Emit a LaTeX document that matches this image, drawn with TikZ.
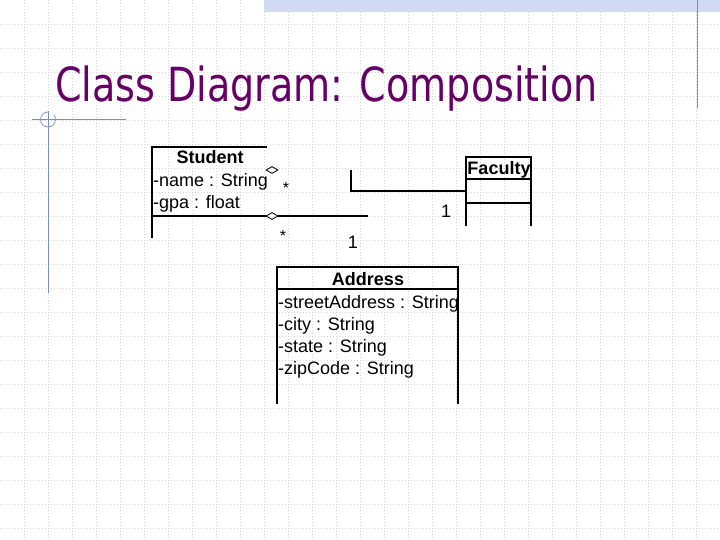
\documentclass[tikz,border=0pt]{standalone}
\usepackage{fontspec}
\usepackage{graphicx}
\setmainfont{Liberation Sans}
\newfontfamily\titlefont{DejaVu Sans}
\usetikzlibrary{shapes.geometric}
\definecolor{titlepurple}{RGB}{102,0,102}
\definecolor{tplblue}{RGB}{125,140,190}
\definecolor{bandblue}{RGB}{208,218,240}
\definecolor{gridgray}{RGB}{212,212,212}
\begin{document}
\begin{tikzpicture}[x=1pt,y=-1pt,
  gridline/.style={gridgray, line width=0.8pt, dash pattern=on 1.2pt off 1.8pt},
  tplline/.style={tplblue, line width=1pt},
  umlline/.style={black, line width=1.1pt},
  attr/.style={font=\fontsize{18}{22}\selectfont, inner sep=0pt, anchor=base west},
  clsname/.style={font=\bfseries\fontsize{18}{22}\selectfont, inner sep=0pt, anchor=base},
  mult/.style={font=\fontsize{18}{22}\selectfont, inner sep=0pt},
  starlbl/.style={font=\fontsize{16}{16}\selectfont, inner sep=0pt},
  aggr/.style={diamond, draw=black, line width=0.8pt, minimum width=12pt, minimum height=7pt, inner sep=0pt}]
\useasboundingbox (0,0) rectangle (720,540);
\fill[white] (0,0) rectangle (720,540);
% background grid
\foreach \k in {1,...,29} \draw[gridline] (24*\k,0) -- (24*\k,540);
\foreach \k in {1,...,22} \draw[gridline] (0,24*\k) -- (720,24*\k);
% template decorations
\fill[bandblue] (264,0) rectangle (720,12);
\draw[tplline] (697,0) -- (697,108);
\draw[tplline] (32,120) -- (126,120);
\draw[tplline] (48,111) -- (48,293);
\draw[tplline, line width=0.7pt] (48,112) arc[start angle=90, end angle=400, radius=7.5pt];
% title
\node[inner sep=0pt, anchor=base west, text=titlepurple] (title) at (55,102)
  {\scalebox{0.81}[1]{\titlefont\fontsize{47}{52}\selectfont Class Diagram: Composition}};
% Student class
\coordinate (stuTL) at (152,147);
\coordinate (stuTR) at (267,147);
\coordinate (stuBL) at (152,238);
\coordinate (stuSep) at (152,216);
\draw[umlline] (stuTR) -- (stuTL) -- (stuBL);
\node[clsname] (stuname) at (210,164) {Student};
\node[attr] (stua1) at (153,187) {-name : String};
\node[attr] (stua2) at (153,209) {-gpa : float};
% Faculty class
\coordinate (facTL) at (466,157);
\coordinate (facTR) at (531,157);
\coordinate (facBL) at (466,226);
\coordinate (facBR) at (531,226);
\draw[umlline] (facBL) -- (facTL) -- (facTR) -- (facBR);
\draw[umlline] (466,179) -- (531,179);
\draw[umlline] (466,203) -- (531,203);
\node[clsname] (facname) at (499,174.5) {Faculty};
% Address class
\coordinate (adrTL) at (277,267);
\coordinate (adrTR) at (458,267);
\coordinate (adrBL) at (277,404);
\coordinate (adrBR) at (458,404);
\draw[umlline] (adrBL) -- (adrTL) -- (adrTR) -- (adrBR);
\draw[umlline] (277,289) -- (458,289);
\node[clsname] (adrname) at (368,285.5) {Address};
\node[attr] (adra1) at (278,308.5) {-streetAddress : String};
\node[attr] (adra2) at (278,330.5) {-city : String};
\node[attr] (adra3) at (278,352.5) {-state : String};
\node[attr] (adra4) at (278,374.5) {-zipCode : String};
% associations
\node[aggr] (dia1) at (272,170) {};
\node[aggr] (dia2) at (272,216) {};
\draw[umlline] (stuSep) -- (dia2.west);
\coordinate (assocEnd) at (368,216);
\draw[umlline] (dia2.east) -- (assocEnd);
\coordinate (facConnTop) at (351,170);
\coordinate (facConnIn) at (466,191);
\draw[umlline] (facConnTop) |- (facConnIn);
\node[starlbl] (star1) at (286,187.5) {*};
\node[starlbl] (star2) at (283,235.5) {*};
\node[mult] (one1) at (446,211) {1};
\node[mult] (one2) at (353,242) {1};
\end{tikzpicture}
\end{document}
